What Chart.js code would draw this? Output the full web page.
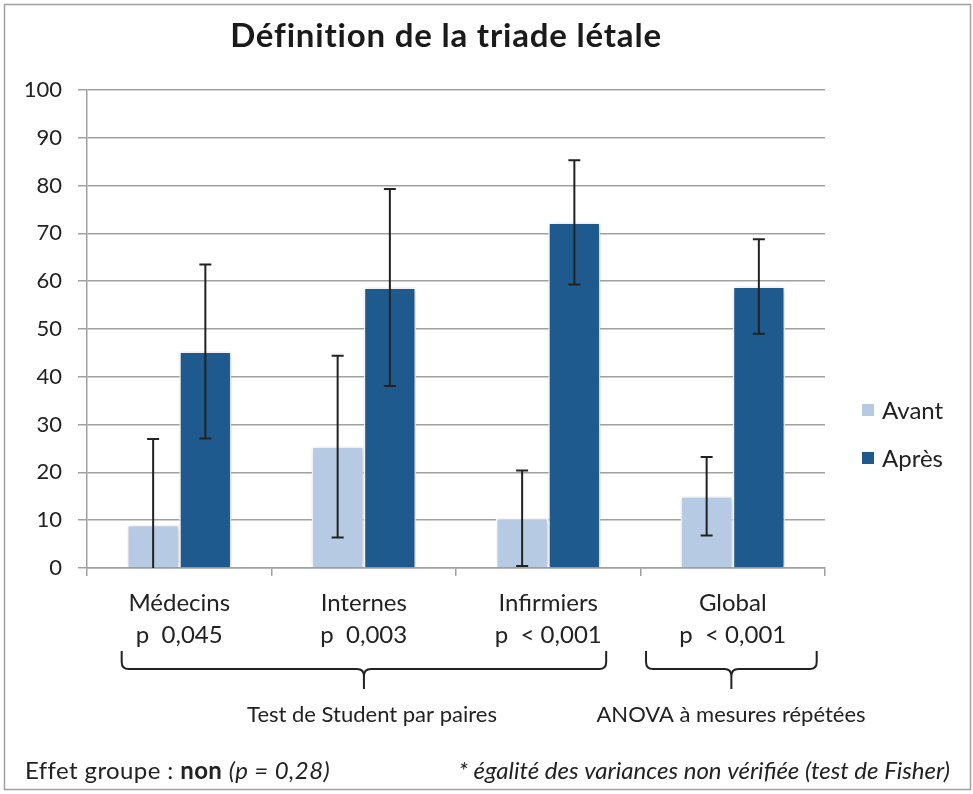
<!DOCTYPE html>
<html>
<head>
<meta charset="utf-8">
<script src="https://cdn.jsdelivr.net/npm/chart.js@4"></script>
<style>
  body { margin: 0; background: #fff; }
  canvas { display: block; }
</style>
</head>
<body>
<canvas id="myChart" width="973" height="794"></canvas>
<script>
// data
var categories = [
    ['Médecins', 'p  0,045'],
    ['Internes', 'p  0,003'],
    ['Infirmiers', 'p  < 0,001'],
    ['Global', 'p  < 0,001']
];
var avant = [9, 25.4, 10.4, 15];
var apres = [45.3, 58.7, 72.3, 58.9];
var errAvant = [18, 19, 10, 8.2];
var errApres = [18.2, 20.6, 13, 9.9];
var yTicks = [0, 10, 20, 30, 40, 50, 60, 70, 80, 90, 100];

var FONT = 'Lato';
var gridColor = '#a0a0a0';

// error bars + shadow + title, legend, braces and notes
var decor = {
    id: 'decor',
    beforeDraw: function(chart){
        var ctx = chart.ctx;
        ctx.save();
        ctx.fillStyle = '#fff';
        ctx.fillRect(0, 0, chart.width, chart.height);
        ctx.restore();
    },
    beforeDatasetsDraw: function(chart){
        var ctx = chart.ctx;
        ctx.save();
        ctx.shadowColor = 'rgba(0,0,0,0.28)';
        ctx.shadowBlur = 5;
        ctx.shadowOffsetX = 1;
        ctx.shadowOffsetY = 1;
    },
    afterDatasetsDraw: function(chart){
        var ctx = chart.ctx;
        ctx.restore();
        var y = chart.scales.y;
        var area = chart.chartArea;
        var errs = [errAvant, errApres];
        ctx.save();
        ctx.beginPath();
        ctx.rect(area.left, area.top - 20, area.right - area.left, area.bottom - area.top + 20);
        ctx.clip();
        ctx.strokeStyle = '#222';
        ctx.lineWidth = 2;
        chart.data.datasets.forEach(function(ds, di){
            var meta = chart.getDatasetMeta(di);
            meta.data.forEach(function(bar, i){
                var v = ds.data[i], e = errs[di][i];
                var yt = y.getPixelForValue(v + e);
                var yb = y.getPixelForValue(v - e);
                ctx.beginPath();
                ctx.moveTo(bar.x, yt); ctx.lineTo(bar.x, yb);
                ctx.moveTo(bar.x - 6, yt); ctx.lineTo(bar.x + 6, yt);
                ctx.moveTo(bar.x - 6, yb); ctx.lineTo(bar.x + 6, yb);
                ctx.stroke();
            });
        });
        ctx.restore();
    },
    afterDraw: function(chart){
        var ctx = chart.ctx;
        var x = chart.scales.x;
        ctx.save();

        // frame
        ctx.strokeStyle = '#a0a0a0';
        ctx.lineWidth = 1.5;
        ctx.strokeRect(4.5, 4.5, 966, 785);

        // title
        ctx.fillStyle = '#1a1a1a';
        ctx.font = 'bold 33px ' + FONT;
        ctx.letterSpacing = '0.8px';
        ctx.textAlign = 'center';
        ctx.textBaseline = 'middle';
        ctx.fillText('Définition de la triade létale', 446, 36);
        ctx.letterSpacing = '0px';

        // legend
        ctx.font = '24px ' + FONT;
        ctx.textAlign = 'left';
        chart.data.datasets.forEach(function(ds, i){
            var ly = 410 + i * 48;
            ctx.fillStyle = ds.backgroundColor;
            ctx.fillRect(862, ly - 6, 12, 12);
            ctx.fillStyle = '#222';
            ctx.fillText(ds.label, 882, ly + 1);
        });

        // braces under the groups
        var cw = x.getPixelForValue(1) - x.getPixelForValue(0);
        function brace(x1, x2){
            var top = 651, yh = 669, tip = 689, r = 7;
            var xm = (x1 + x2) / 2;
            ctx.beginPath();
            ctx.moveTo(x1, top);
            ctx.lineTo(x1, yh - r);
            ctx.quadraticCurveTo(x1, yh, x1 + r, yh);
            ctx.lineTo(xm - r, yh);
            ctx.quadraticCurveTo(xm, yh, xm, yh + r);
            ctx.lineTo(xm, tip);
            ctx.moveTo(xm, yh + r);
            ctx.quadraticCurveTo(xm, yh, xm + r, yh);
            ctx.lineTo(x2 - r, yh);
            ctx.quadraticCurveTo(x2, yh, x2, yh - r);
            ctx.lineTo(x2, top);
            ctx.stroke();
        }
        ctx.strokeStyle = '#222';
        ctx.lineWidth = 2;
        brace(x.getPixelForValue(0) - cw * 0.312, x.getPixelForValue(2) + cw * 0.314);
        brace(x.getPixelForValue(3) - cw * 0.47, x.getPixelForValue(3) + cw * 0.455);

        ctx.fillStyle = '#222';
        ctx.textAlign = 'center';
        ctx.font = '22px ' + FONT;
        ctx.fillText('Test de Student par paires', 372, 715);
        ctx.fillText('ANOVA à mesures répétées', 731, 715);

        // footnotes
        ctx.textAlign = 'left';
        ctx.letterSpacing = '0.4px';
        var fx = 25, fy = 771;
        var parts = [['', 'Effet groupe : '], ['bold ', 'non'], ['', ' '], ['italic ', '(p = 0,28)']];
        parts.forEach(function(p){
            ctx.font = p[0] + '24px ' + FONT;
            ctx.fillText(p[1], fx, fy);
            fx += ctx.measureText(p[1]).width;
        });
        ctx.letterSpacing = '0px';
        ctx.textAlign = 'right';
        ctx.font = 'italic 24px ' + FONT;
        ctx.fillText('* égalité des variances non vérifiée (test de Fisher)', 950, fy);
        ctx.restore();
    }
};

var ctx = document.getElementById('myChart').getContext('2d');
var myChart = new Chart(ctx, {
    type: 'bar',
    data: {
        labels: categories,
        datasets: [{
            label: 'Avant',
            data: avant,
            backgroundColor: '#b6cbe3',
            borderColor: '#ffffff',
            borderWidth: 1.5
        }, {
            label: 'Après',
            data: apres,
            backgroundColor: '#1f5a8e',
            borderColor: '#ffffff',
            borderWidth: 1.5
        }]
    },
    options: {
        responsive: false,
        animation: false,
        layout: { padding: { top: 90, right: 148, left: 0, bottom: 0 } },
        datasets: { bar: { categoryPercentage: 0.566, barPercentage: 1.0 } },
        plugins: {
            legend: { display: false },
            tooltip: { enabled: false }
        },
        scales: {
            x: {
                grid: { offset: true, drawOnChartArea: false, tickLength: 8, color: gridColor, lineWidth: 1.5 },
                border: { color: gridColor, width: 1.5 },
                ticks: {
                    color: '#222',
                    font: { family: FONT, size: 24, lineHeight: 1.3 },
                    padding: 12,
                    maxRotation: 0,
                    autoSkip: false
                },
                afterFit: function(s){ s.height = 226; }
            },
            y: {
                min: 0,
                max: 100,
                afterBuildTicks: function(s){ s.ticks = yTicks.map(function(v){ return { value: v }; }); },
                grid: { tickLength: 9, color: gridColor, lineWidth: 1.5 },
                border: { color: gridColor, width: 1.5 },
                ticks: {
                    color: '#222',
                    font: { family: FONT, size: 22 },
                    padding: 16
                },
                afterFit: function(s){ s.width = 87; }
            }
        }
    },
    plugins: [decor]
});
</script>
</body>
</html>
